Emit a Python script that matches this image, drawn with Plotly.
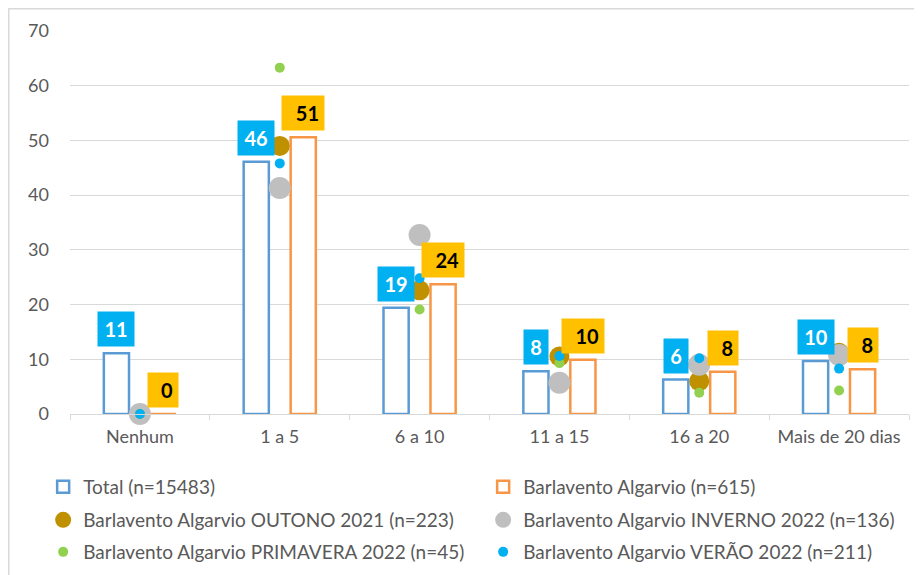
import plotly.graph_objects as go

# ─── Data ────────────────────────────────────────────────────────────────────
categories = ["Nenhum", "1 a 5", "6 a 10", "11 a 15", "16 a 20", "Mais de 20 dias"]

total_vals = [11.1, 46.1, 19.4, 7.8, 6.3, 9.7]
barlavento_vals = [0.0, 50.6, 23.7, 9.9, 7.7, 8.2]

outono_vals = [0.0, 49.0, 22.6, 10.5, 6.0, 11.2]
inverno_vals = [0.0, 41.3, 32.7, 5.7, 9.0, 10.8]
primavera_vals = [0.0, 63.3, 19.1, 9.3, 3.9, 4.3]
verao_vals = [0.0, 45.8, 24.8, 10.6, 10.2, 8.3]

y_ticks = [0, 10, 20, 30, 40, 50, 60, 70]

# ─── Style ───────────────────────────────────────────────────────────────────
BLUE_BAR = "#5B9BD5"
ORANGE_BAR = "#F79646"
GOLD = "#BF9000"
GREY = "#BFBFBF"
GREEN = "#92D050"
CYAN = "#00B0F0"
YELLOW = "#FFC000"
GRID = "#D9D9D9"
TEXT = "#595959"
FONT = "Lato"

W, H = 914, 567            # page body adds an 8px offset
M_L, M_R, M_T, M_B = 62, 13, 23, 161
PLOT_W = W - M_L - M_R
PLOT_H = H - M_T - M_B
CAT_PX = PLOT_W / len(categories)

BAR_W = 0.18
BAR_OFF = 0.168

fig = go.Figure()

fig.add_trace(go.Bar(
    x=categories, y=total_vals, name="Total (n=15483)",
    width=BAR_W, offset=-BAR_OFF - BAR_W / 2, legend="legend",
    marker=dict(color="white", line=dict(color=BLUE_BAR, width=2.5)),
))
fig.add_trace(go.Bar(
    x=categories, y=barlavento_vals, name="Barlavento Algarvio (n=615)",
    width=BAR_W, offset=BAR_OFF - BAR_W / 2, legend="legend",
    marker=dict(color="white", line=dict(color=ORANGE_BAR, width=2.5)),
))

dots = [
    ("Barlavento Algarvio OUTONO 2021 (n=223)", outono_vals, GOLD, 20, "legend2"),
    ("Barlavento Algarvio INVERNO 2022 (n=136)", inverno_vals, GREY, 22, "legend2"),
    ("Barlavento Algarvio PRIMAVERA 2022 (n=45)", primavera_vals, GREEN, 10, "legend3"),
    ("Barlavento Algarvio VERÃO 2022 (n=211)", verao_vals, CYAN, 10, "legend3"),
]
for name, vals, color, size, leg in dots:
    fig.add_trace(go.Scatter(
        x=categories, y=vals, name=name, mode="markers", legend=leg,
        marker=dict(color=color, size=size), cliponaxis=False,
    ))

# data labels in coloured boxes
annotations = []
for cat, v in zip(categories, total_vals):
    txt = f"{v:.0f}"
    annotations.append(dict(
        x=cat, y=v, text=f"<b>{txt}</b>", showarrow=False,
        xshift=-BAR_OFF * CAT_PX, yshift=6, yanchor="bottom",
        bgcolor=CYAN, borderpad=5, width=2 + 12 * len(txt),
        font=dict(color="white", size=20, family=FONT),
    ))
for cat, v in zip(categories, barlavento_vals):
    txt = f"{v:.0f}"
    annotations.append(dict(
        x=cat, y=v, text=f"<b>{txt}</b>", showarrow=False,
        xshift=BAR_OFF * CAT_PX, yshift=6, yanchor="bottom",
        bgcolor=YELLOW, borderpad=5, width=8 + 12 * len(txt), align="right",
        font=dict(color="black", size=20, family=FONT),
    ))


def legend_row(py):
    # py: vertical centre of the legend row in figure pixels
    return dict(
        orientation="h", x=-0.032, xanchor="left",
        y=(M_T + PLOT_H - py) / PLOT_H, yanchor="middle",
        entrywidth=395, font=dict(size=19, color=TEXT),
        itemwidth=30, bgcolor="rgba(0,0,0,0)",
    )


fig.update_layout(
    width=W, height=H,
    paper_bgcolor="white", plot_bgcolor="white",
    barmode="overlay",
    font=dict(family=FONT, color=TEXT, size=18),
    margin=dict(l=M_L, r=M_R, t=M_T, b=M_B, autoexpand=False),
    showlegend=True,
    legend=legend_row(479),
    legend2=legend_row(512),
    legend3=legend_row(544),
    annotations=annotations,
    shapes=[dict(
        type="rect", xref="paper", yref="paper",
        x0=(-M_L + 0.75) / PLOT_W, x1=1.2,
        y0=-1.0, y1=1 + (M_T - 0.75) / PLOT_H,
        line=dict(color=GRID, width=1.5), layer="below",
    )],
)

fig.update_xaxes(
    type="category", showgrid=False,
    showline=True, linecolor=GRID, linewidth=1,
    ticks="outside", tickson="boundaries", ticklen=5, tickcolor=GRID,
    tickfont=dict(size=18, color=TEXT), ticklabelstandoff=6,
)
fig.update_yaxes(
    range=[0, 70], tickvals=y_ticks,
    showgrid=True, gridcolor=GRID, gridwidth=1,
    zeroline=False, showline=False,
    tickfont=dict(size=18, color=TEXT), ticklabelstandoff=20,
)

fig.write_html("out.html")
